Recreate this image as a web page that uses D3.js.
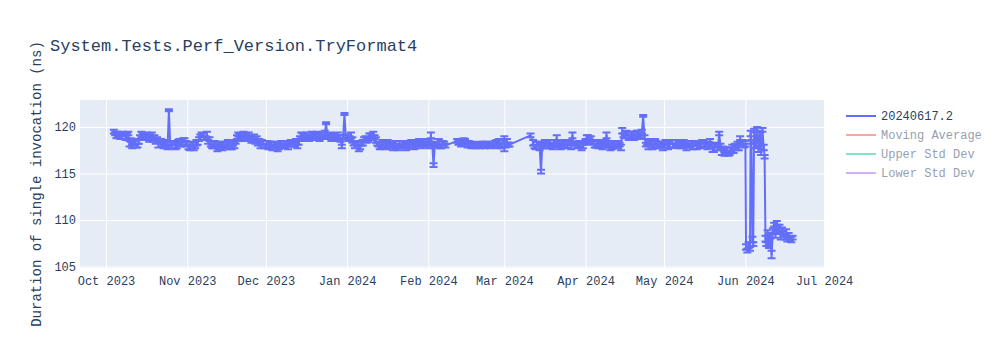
<!DOCTYPE html>
<meta charset="utf-8">
<body style="margin:0">
<script src="https://cdn.jsdelivr.net/npm/d3@7"></script>
<div id="chart"></div>
<script>

 // one row per day: [day, first run mean, its error, second run mean (noon), its error]
 var oct23 = [
     ["2023-10-04",119.5,0.2,119.3,0.2],["2023-10-05",119.0,0.2,119.2,0.3],["2023-10-06",119.1,0.2,118.9,0.2],
     ["2023-10-07",118.9,0.2,119.3,0.2],["2023-10-08",119.2,0.2,118.9,0.3],["2023-10-09",119.0,0.3,119.3,0.2],
     ["2023-10-10",118.2,0.3,118.6,0.2],["2023-10-11",117.9,0.2,118.3,0.2],["2023-10-12",118.4,0.3,118.0,0.2],
     ["2023-10-13",118.0,0.2,118.4,0.2],["2023-10-14",118.9,0.2,119.2,0.3],["2023-10-15",119.1,0.2,118.8,0.2],
     ["2023-10-16",118.8,0.2,119.2,0.2],["2023-10-17",119.0,0.2,118.7,0.3],["2023-10-18",118.9,0.3,119.2,0.2],
     ["2023-10-19",118.6,0.2,118.9,0.2],["2023-10-20",118.4,0.2,118.7,0.2],["2023-10-21",118.1,0.3,118.5,0.2],
     ["2023-10-22",118.5,0.2,118.1,0.2],["2023-10-23",117.9,0.2,118.3,0.3],["2023-10-24",118.2,0.3,117.8,0.2],
     ["2023-10-25",121.8,0.1,118.2,0.2],["2023-10-26",117.9,0.2,118.3,0.2],["2023-10-27",118.3,0.2,117.9,0.3],
     ["2023-10-28",118.0,0.3,118.4,0.2],["2023-10-29",118.5,0.2,118.1,0.2],["2023-10-30",118.3,0.2,118.6,0.2],
     ["2023-10-31",118.6,0.2,118.2,0.3]
 ];
 var nov23 = [
     ["2023-11-01",118.2,0.2,117.8,0.2],["2023-11-02",117.8,0.3,118.2,0.2],["2023-11-03",118.1,0.2,117.7,0.2],
     ["2023-11-04",117.9,0.2,118.3,0.3],["2023-11-05",118.3,0.2,118.7,0.2],["2023-11-06",118.9,0.3,119.2,0.2],
     ["2023-11-07",119.1,0.2,118.8,0.2],["2023-11-08",118.8,0.2,119.2,0.3],["2023-11-09",118.4,0.2,118.7,0.2],
     ["2023-11-10",118.2,0.3,117.9,0.2],["2023-11-11",117.9,0.2,118.3,0.2],["2023-11-12",118.1,0.2,117.7,0.3],
     ["2023-11-13",117.8,0.2,118.2,0.2],["2023-11-14",118.0,0.3,117.7,0.2],["2023-11-15",118.2,0.2,117.9,0.2],
     ["2023-11-16",117.9,0.2,118.3,0.3],["2023-11-17",118.1,0.2,117.8,0.2],["2023-11-18",117.8,0.2,118.2,0.2],
     ["2023-11-19",118.0,0.3,118.4,0.2],["2023-11-20",118.9,0.2,119.2,0.2],["2023-11-21",119.1,0.2,118.8,0.3],
     ["2023-11-22",118.9,0.2,119.3,0.2],["2023-11-23",119.0,0.3,118.7,0.2],["2023-11-24",118.8,0.2,119.2,0.2],
     ["2023-11-25",118.9,0.2,118.6,0.3],["2023-11-26",118.7,0.2,119.0,0.2],["2023-11-27",118.5,0.3,118.8,0.2],
     ["2023-11-28",118.2,0.2,118.5,0.2],["2023-11-29",117.9,0.2,118.3,0.3],["2023-11-30",118.3,0.2,117.9,0.2]
 ];
 var dec23 = [
     ["2023-12-01",118.0,0.2,118.3,0.2],["2023-12-02",117.8,0.2,118.1,0.3],["2023-12-03",118.1,0.3,117.7,0.2],
     ["2023-12-04",117.9,0.2,118.2,0.2],["2023-12-05",118.0,0.2,117.7,0.3],["2023-12-06",117.8,0.2,118.2,0.2],
     ["2023-12-07",118.2,0.3,117.9,0.2],["2023-12-08",118.0,0.2,118.3,0.2],["2023-12-09",118.3,0.2,117.9,0.3],
     ["2023-12-10",118.1,0.2,118.4,0.2],["2023-12-11",118.4,0.2,118.1,0.2],["2023-12-12",118.2,0.3,118.5,0.2],
     ["2023-12-13",117.9,0.2,118.3,0.2],["2023-12-14",118.8,0.2,119.1,0.3],["2023-12-15",119.1,0.2,118.8,0.2],
     ["2023-12-16",118.8,0.3,119.2,0.2],["2023-12-17",119.0,0.2,118.7,0.2],["2023-12-18",118.9,0.2,119.2,0.3],
     ["2023-12-19",119.1,0.2,118.8,0.2],["2023-12-20",118.9,0.2,119.3,0.2],["2023-12-21",119.0,0.3,118.7,0.2],
     ["2023-12-22",119.2,0.2,118.9,0.2],["2023-12-23",119.0,0.2,119.3,0.3],["2023-12-24",120.4,0.1,119.0,0.2],
     ["2023-12-25",118.9,0.2,119.2,0.2],["2023-12-26",118.8,0.3,119.1,0.2],["2023-12-27",119.0,0.2,118.7,0.2],
     ["2023-12-28",118.8,0.2,119.1,0.3],["2023-12-29",118.9,0.2,118.6,0.2],["2023-12-30",117.9,0.2,118.9,0.2],
     ["2023-12-31",121.4,0.1,119.0,0.2]
 ];
 var jan24 = [
     ["2024-01-01",119.0,0.2,118.7,0.2],["2024-01-02",118.8,0.2,119.1,0.3],["2024-01-03",118.6,0.3,118.2,0.2],
     ["2024-01-04",117.9,0.2,118.3,0.2],["2024-01-05",118.1,0.2,117.7,0.3],["2024-01-06",117.8,0.2,118.2,0.2],
     ["2024-01-07",118.3,0.3,118.7,0.2],["2024-01-08",118.8,0.2,118.5,0.2],["2024-01-09",118.6,0.2,119.0,0.3],
     ["2024-01-10",119.1,0.2,118.8,0.2],["2024-01-11",119.3,0.2,118.9,0.2],["2024-01-12",118.6,0.3,118.2,0.2],
     ["2024-01-13",118.1,0.2,117.8,0.2],["2024-01-14",117.9,0.2,118.3,0.3],["2024-01-15",118.2,0.2,117.8,0.2],
     ["2024-01-16",118.0,0.3,118.4,0.2],["2024-01-17",117.9,0.2,118.2,0.2],["2024-01-18",118.1,0.2,117.8,0.3],
     ["2024-01-19",117.9,0.2,118.3,0.2],["2024-01-20",118.0,0.2,117.7,0.2],["2024-01-21",118.2,0.3,117.9,0.2],
     ["2024-01-22",117.9,0.2,118.3,0.2],["2024-01-23",118.1,0.2,117.8,0.3],["2024-01-24",118.3,0.2,117.9,0.2],
     ["2024-01-25",118.0,0.3,118.4,0.2],["2024-01-26",118.2,0.2,117.8,0.2],["2024-01-27",117.9,0.2,118.3,0.3],
     ["2024-01-28",118.1,0.2,118.5,0.2],["2024-01-29",118.3,0.2,117.9,0.2],["2024-01-30",118.4,0.3,118.1,0.2],
     ["2024-01-31",118.1,0.2,118.5,0.2]
 ];
 var feb24 = [
     ["2024-02-01",118.3,0.2,117.9,0.2],["2024-02-02",119.1,0.3,118.2,0.2],["2024-02-03",115.9,0.2,118.1,0.2],
     ["2024-02-04",118.0,0.2,118.4,0.3],["2024-02-05",118.4,0.3,117.9,0.2],["2024-02-06",117.9,0.2,118.3,0.2],
     ["2024-02-07",118.2,0.2,118.0,0.2],
     ["2024-02-12",118.5,0.2,118.3,0.2],["2024-02-13",118.4,0.2,118.1,0.2],["2024-02-14",118.3,0.3,118.6,0.2],
     ["2024-02-15",118.5,0.2,118.2,0.2],["2024-02-16",118.0,0.2,118.3,0.2],["2024-02-17",118.1,0.2,117.9,0.2],
     ["2024-02-18",118.0,0.2,118.2,0.2],["2024-02-19",117.9,0.2,118.1,0.2],["2024-02-20",118.1,0.2,117.9,0.2],
     ["2024-02-21",118.0,0.2,118.2,0.2],["2024-02-22",118.2,0.2,117.9,0.2],["2024-02-23",118.0,0.2,118.2,0.2],
     ["2024-02-24",118.1,0.2,117.9,0.2],["2024-02-25",118.2,0.2,118.0,0.2],["2024-02-26",118.0,0.2,118.3,0.2],
     ["2024-02-27",118.3,0.3,117.9,0.2],["2024-02-28",118.5,0.2,118.1,0.2],["2024-02-29",118.0,0.3,118.4,0.2]
 ];
 var mar24 = [
     ["2024-03-01",118.2,0.8,118.0,0.2],["2024-03-02",118.5,0.2,118.1,0.2],["2024-03-03",118.1,0.2],
     ["2024-03-11",119.1,0.2],
     ["2024-03-12",118.3,0.3,117.9,0.2],["2024-03-13",117.8,0.2,118.2,0.2],["2024-03-14",118.2,0.2,117.8,0.3],
     ["2024-03-15",115.2,0.2,118.1,0.2],["2024-03-16",118.0,0.3,118.4,0.2],["2024-03-17",118.3,0.2,117.9,0.2],
     ["2024-03-18",117.9,0.2,118.3,0.3],["2024-03-19",118.1,0.2,117.8,0.2],["2024-03-20",118.0,0.2,118.4,0.2],
     ["2024-03-21",118.8,0.3,118.1,0.2],["2024-03-22",118.1,0.2,117.8,0.2],["2024-03-23",117.9,0.2,118.3,0.3],
     ["2024-03-24",118.2,0.2,117.9,0.2],["2024-03-25",118.0,0.2,118.4,0.2],["2024-03-26",118.3,0.2,117.9,0.3],
     ["2024-03-27",119.1,0.3,118.2,0.2],["2024-03-28",118.2,0.2,117.9,0.2],["2024-03-29",118.0,0.2,118.3,0.2],
     ["2024-03-30",118.1,0.2,117.8,0.3],["2024-03-31",117.9,0.2,118.3,0.2]
 ];
 var apr24 = [
     ["2024-04-01",118.5,0.2,118.9,0.2],["2024-04-02",118.9,0.2,118.5,0.3],["2024-04-03",118.7,0.3,118.3,0.2],
     ["2024-04-04",118.4,0.2,118.0,0.2],["2024-04-05",118.0,0.2,118.3,0.3],["2024-04-06",117.9,0.2,118.2,0.2],
     ["2024-04-07",118.1,0.2,117.8,0.2],["2024-04-08",118.0,0.2,118.3,0.3],["2024-04-09",119.1,0.3,118.2,0.2],
     ["2024-04-10",118.0,0.2,117.7,0.2],["2024-04-11",117.8,0.2,118.2,0.3],["2024-04-12",118.2,0.2,117.9,0.2],
     ["2024-04-13",117.9,0.2,118.3,0.2],["2024-04-14",118.1,0.2,117.8,0.3],["2024-04-15",119.6,0.3,119.1,0.2],
     ["2024-04-16",119.0,0.2,119.4,0.2],["2024-04-17",119.3,0.2,118.9,0.3],["2024-04-18",118.9,0.2,119.3,0.2],
     ["2024-04-19",119.2,0.3,118.8,0.2],["2024-04-20",119.0,0.2,119.4,0.2],["2024-04-21",119.4,0.2,119.0,0.3],
     ["2024-04-22",119.1,0.2,119.5,0.2],["2024-04-23",121.2,0.1,118.9,0.2],["2024-04-24",118.1,0.2,118.4,0.3],
     ["2024-04-25",117.9,0.3,118.3,0.2],["2024-04-26",118.2,0.2,117.8,0.2],["2024-04-27",118.0,0.2,118.4,0.3],
     ["2024-04-28",118.3,0.2,117.9,0.2],["2024-04-29",117.9,0.2,118.2,0.2],["2024-04-30",118.1,0.2,117.8,0.3]
 ];
 var may24 = [
     ["2024-05-01",118.0,0.2,118.4,0.2],["2024-05-02",118.3,0.2,117.9,0.3],["2024-05-03",118.1,0.3,118.4,0.2],
     ["2024-05-04",118.4,0.2,118.0,0.2],["2024-05-05",118.0,0.2,118.3,0.3],["2024-05-06",117.9,0.2,118.2,0.2],
     ["2024-05-07",118.2,0.3,117.9,0.2],["2024-05-08",118.0,0.2,118.4,0.2],["2024-05-09",118.1,0.2,117.8,0.3],
     ["2024-05-10",118.3,0.2,118.0,0.2],["2024-05-11",118.0,0.2,118.3,0.2],["2024-05-12",117.9,0.3,118.2,0.2],
     ["2024-05-13",118.2,0.2,117.8,0.2],["2024-05-14",118.3,0.2,118.0,0.3],["2024-05-15",118.0,0.2,118.4,0.2],
     ["2024-05-16",118.4,0.2,118.1,0.2],["2024-05-17",118.1,0.3,117.8,0.2],["2024-05-18",118.2,0.2,118.5,0.2],
     ["2024-05-19",118.0,0.2,117.6,0.3],["2024-05-20",117.6,0.3,118.0,0.2],["2024-05-21",118.1,0.2,117.7,0.2],
     ["2024-05-22",119.3,0.2,118.0,0.2],["2024-05-23",117.3,0.3,117.7,0.2],["2024-05-24",117.1,0.2,117.5,0.3],
     ["2024-05-25",117.5,0.3,117.1,0.2],["2024-05-26",117.2,0.2,117.6,0.2],["2024-05-27",117.8,0.3,117.4,0.2],
     ["2024-05-28",118.0,0.2,117.7,0.2],["2024-05-29",118.2,0.2,117.8,0.3],["2024-05-30",118.8,0.2,118.3,0.2],
     ["2024-05-31",118.3,0.3,118.0,0.2]
 ];
 // June has irregular run times, so one row per run: [time, mean, error]
 var jun24 = [
     ["2024-06-01T00:00",118.2,0.3],["2024-06-01T06:00",107.1,0.3],["2024-06-01T18:00",106.7,0.2],
     ["2024-06-02T06:00",107.3,0.3],["2024-06-02T18:00",106.9,0.2],["2024-06-03T00:00",119.3,0.3],
     ["2024-06-03T08:00",118.4,0.2],["2024-06-03T16:00",107.9,0.3],["2024-06-04T00:00",107.4,0.2],
     ["2024-06-04T08:00",119.6,0.2],["2024-06-05T00:00",118.0,0.3],["2024-06-05T12:00",119.8,0.2],
     ["2024-06-06T00:00",117.6,0.3],["2024-06-06T12:00",119.2,0.2],["2024-06-07T00:00",117.3,0.3],
     ["2024-06-07T12:00",119.7,0.2],["2024-06-08T00:00",117.8,0.3],["2024-06-08T08:00",116.8,0.2],
     ["2024-06-08T16:00",108.0,0.3],["2024-06-09T00:00",107.4,0.2],["2024-06-09T12:00",108.6,0.3],
     ["2024-06-10T00:00",107.2,0.2],["2024-06-10T12:00",108.3,0.3],["2024-06-11T00:00",106.3,0.4],
     ["2024-06-11T12:00",108.8,0.3],["2024-06-12T00:00",109.5,0.2],["2024-06-12T12:00",108.4,0.3],
     ["2024-06-13T00:00",109.7,0.2],["2024-06-13T12:00",108.9,0.3],["2024-06-14T00:00",109.3,0.2],
     ["2024-06-14T12:00",108.2,0.3],["2024-06-15T00:00",109.0,0.2],["2024-06-15T12:00",108.5,0.3],
     ["2024-06-16T00:00",108.1,0.2],["2024-06-16T12:00",108.7,0.3],["2024-06-17T00:00",107.9,0.2],
     ["2024-06-17T12:00",108.3,0.3],["2024-06-18T00:00",108.0,0.2],["2024-06-18T12:00",107.9,0.3],
     ["2024-06-19T00:00",108.1,0.2]
 ];

 var yTicks = [105, 110, 115, 120];
 var legendNames = ["20240617.2", "Moving Average", "Upper Std Dev", "Lower Std Dev"];
 var legendColors = ["#636efa", "#EF553B", "#00cc96", "#ab63fa"];

 var parse = d3.isoParse;
 var runs = [];
 [].concat(oct23, nov23, dec23, jan24, feb24, mar24, apr24, may24).forEach(r => {
     runs.push({ date: parse(r[0]), mean: r[1], err: r[2] });
     if (r.length > 3) {
         runs.push({ date: parse(r[0] + "T12:00"), mean: r[3], err: r[4] });
     }
 });
 jun24.forEach(r => runs.push({ date: parse(r[0]), mean: r[1], err: r[2] }));

 var width = 1000, height = 350;
 var plot = { left: 80, top: 100, right: 824, bottom: 268 };
 var font = "'Courier New', 'Liberation Mono', monospace";
 var textColor = "#2a3f5f";

 var svg = d3.select("#chart").append("svg")
             .attr("width", width)
             .attr("height", height)
             .attr("font-family", font)
             .style("background", "white");

 var x = d3.scaleTime()
           .domain([new Date(2023, 8, 21, 2), new Date(2024, 6, 1)])
           .range([plot.left, plot.right]);

 var y = d3.scaleLinear()
           .domain([104.84, 122.9])
           .range([plot.bottom, plot.top]);

 svg.append("rect")
    .attr("x", plot.left)
    .attr("y", plot.top)
    .attr("width", plot.right - plot.left)
    .attr("height", plot.bottom - plot.top)
    .attr("fill", "#e5ecf6");

 var xTicks = d3.timeMonth.range(new Date(2023, 9, 1), new Date(2024, 6, 2));

 var xAxis = svg.append("g")
                .attr("transform", "translate(0," + plot.bottom + ")")
                .call(d3.axisBottom(x)
                        .tickValues(xTicks)
                        .tickFormat(d3.timeFormat("%b %Y"))
                        .tickSize(-(plot.bottom - plot.top))
                        .tickPadding(8));
 xAxis.select(".domain").remove();
 xAxis.selectAll("line").attr("stroke", "white").attr("stroke-width", 1);
 xAxis.selectAll("text")
      .attr("font-size", 12)
      .attr("font-family", font)
      .attr("fill", textColor);

 var yAxis = svg.append("g")
                .attr("transform", "translate(" + plot.left + ",0)")
                .call(d3.axisLeft(y)
                        .tickValues(yTicks)
                        .tickSize(-(plot.right - plot.left))
                        .tickPadding(4));
 yAxis.select(".domain").remove();
 yAxis.selectAll("line").attr("stroke", "white").attr("stroke-width", 1);
 yAxis.selectAll("text")
      .attr("font-size", 12)
      .attr("font-family", font)
      .attr("fill", textColor);

 svg.append("clipPath").attr("id", "plot-clip")
    .append("rect")
    .attr("x", plot.left).attr("y", plot.top)
    .attr("width", plot.right - plot.left)
    .attr("height", plot.bottom - plot.top);

 var traceG = svg.append("g").attr("clip-path", "url(#plot-clip)");
 var color = legendColors[0];
 var capW = 4;

 // error bars
 traceG.append("g")
       .selectAll("path")
       .data(runs)
       .enter()
       .append("path")
       .attr("fill", "none")
       .attr("stroke", color)
       .attr("stroke-width", 2)
       .attr("d", d => {
           var px = x(d.date);
           var y0 = y(d.mean - d.err), y1 = y(d.mean + d.err);
           return "M" + (px - capW) + "," + y0 + "h" + (2 * capW) +
                  "M" + px + "," + y0 + "V" + y1 +
                  "M" + (px - capW) + "," + y1 + "h" + (2 * capW);
       });

 var line = d3.line()
              .x(d => x(d.date))
              .y(d => y(d.mean));

 traceG.append("path")
       .datum(runs)
       .attr("fill", "none")
       .attr("stroke", color)
       .attr("stroke-width", 2)
       .attr("stroke-linejoin", "round")
       .attr("d", line);

 // title
 svg.append("text")
    .attr("x", 50)
    .attr("y", 51)
    .attr("font-size", 17)
    .attr("fill", textColor)
    .text("System.Tests.Perf_Version.TryFormat4");

 svg.append("text")
    .attr("transform", "translate(41," + ((plot.top + plot.bottom) / 2) + ") rotate(-90)")
    .attr("text-anchor", "middle")
    .attr("font-size", 14)
    .attr("fill", textColor)
    .text("Duration of single invocation (ns)");

 // legend
 var legend = svg.append("g").attr("transform", "translate(841,116)");
 var items = legend.selectAll("g")
                   .data(legendNames)
                   .enter()
                   .append("g")
                   .attr("transform", (d, i) => "translate(0," + (i * 19) + ")")
                   .attr("opacity", (d, i) => i === 0 ? 1 : 0.5);
 items.append("line")
      .attr("x1", 5).attr("x2", 35)
      .attr("stroke", (d, i) => legendColors[i])
      .attr("stroke-width", 2);
 items.append("text")
      .attr("x", 40)
      .attr("dy", "0.35em")
      .attr("font-size", 12)
      .attr("fill", textColor)
      .text(d => d);

</script>
